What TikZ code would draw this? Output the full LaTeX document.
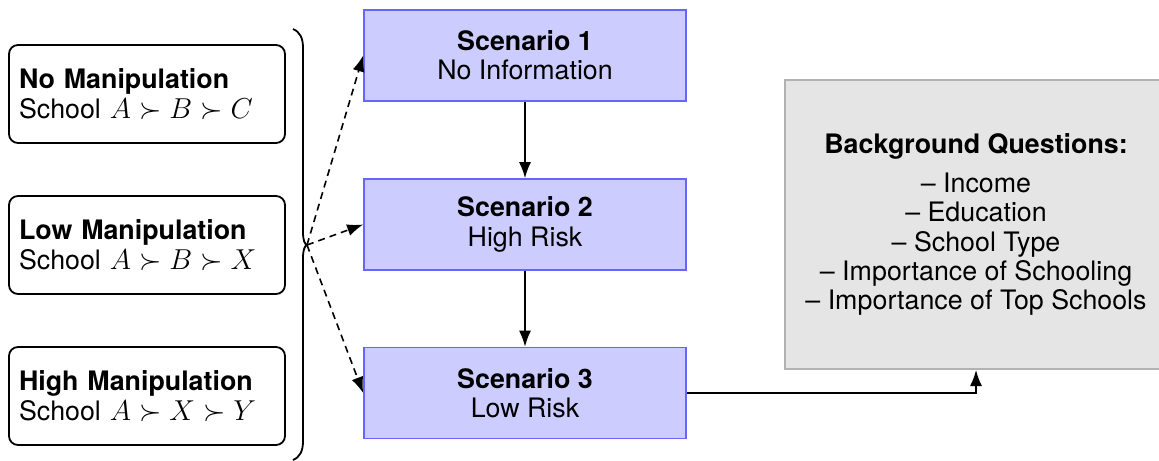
\documentclass[tikz,border=0pt]{standalone}
\usepackage{fontspec}
\setmainfont{TeX Gyre Heros}
\usetikzlibrary{arrows.meta,positioning}

\begin{document}
\begin{tikzpicture}[
  x=0.5pt, y=-0.5pt,
  every node/.style={font=\fontsize{13.4}{14.6}\selectfont},
  arrowtip/.style={-{Latex[length=8pt,width=6pt]}},
  choicebox/.style={draw, line width=0.9pt, rounded corners=4.5pt,
    minimum height=49pt, text width=128pt, inner xsep=5pt, align=left},
  scenbox/.style={draw=blue!60, fill=blue!20, line width=0.8pt,
    minimum width=161pt, minimum height=45.5pt, align=center},
  qbox/.style={draw=black!30, fill=black!10, line width=1pt,
    minimum width=191pt, minimum height=144.5pt, align=center},
  flow/.style={arrowtip, line width=0.8pt},
  branch/.style={arrowtip, line width=0.8pt, dash pattern=on 3.5pt off 2.5pt}
]
\useasboundingbox (0,0) rectangle (1159,460);

% manipulation levels
\node[choicebox] (none) at (147,94)  {\textbf{No Manipulation}\\School $A\succ B\succ C$};
\node[choicebox] (low)  at (147,245) {\textbf{Low Manipulation}\\School $A\succ B\succ X$};
\node[choicebox] (high) at (147,396) {\textbf{High Manipulation}\\School $A\succ X\succ Y$};

% brace grouping the three levels
\coordinate (tip) at (307,245);
\draw[line width=0.9pt]
  (293,29) .. controls (300,32) and (303,38) .. (303,48)
  -- (303,232) .. controls (303,240) and (304.5,244) .. (tip)
  .. controls (304.5,246) and (303,250) .. (303,258)
  -- (303,441) .. controls (303,451) and (300,457) .. (293,460);

% scenarios
\node[scenbox] (s1) at (525,55.5)  {\textbf{Scenario 1}\\No Information};
\node[scenbox] (s2) at (525,224.5) {\textbf{Scenario 2}\\High Risk};
\node[scenbox] (s3) at (525,393)   {\textbf{Scenario 3}\\Low Risk};

% background questionnaire
\node[qbox] (bg) at (976,224.5) {\textbf{Background Questions:}\\[5pt]
  -- Income\\ -- Education\\ -- School Type\\
  -- Importance of Schooling\\ -- Importance of Top Schools};

% connectors
\draw[branch] (tip) -- (s1.west);
\draw[branch] (tip) -- (s2.west);
\draw[branch] (tip) -- (s3.west);
\draw[flow] (s1) -- (s2);
\draw[flow] (s2) -- (s3);
\draw[flow] (s3.east) -| (bg.south);
\end{tikzpicture}
\end{document}
